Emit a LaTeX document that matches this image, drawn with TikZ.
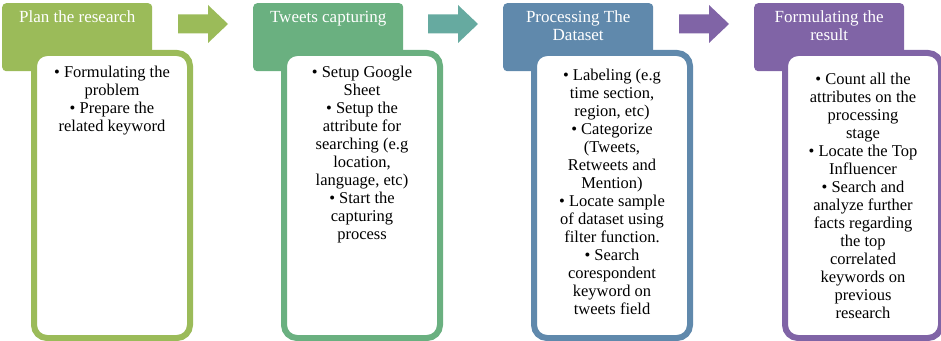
\documentclass[tikz,border=0pt]{standalone}
\usepackage{fontspec}
\setmainfont{Liberation Serif}
\usetikzlibrary{positioning}

\definecolor{olive}{HTML}{9BBB59}
\definecolor{leaf}{HTML}{6AB080}
\definecolor{teal}{HTML}{66AAA0}
\definecolor{steel}{HTML}{6089AC}
\definecolor{violet}{HTML}{8064A6}

\tikzset{
  header/.style={fill=#1, rounded corners=4pt, inner sep=0pt,
    minimum width=150pt, minimum height=68pt, anchor=north west},
  panel/.style={draw=#1, line width=6pt, fill=white, rounded corners=13pt,
    inner sep=0pt, minimum width=156pt, minimum height=285pt, anchor=north west},
  title/.style={text=white, align=center, inner sep=0pt,
    font=\fontsize{17}{18}\selectfont},
  items/.style={align=center, inner sep=0pt,
    font=\fontsize{16.5}{18}\selectfont}
}

\begin{document}
\begin{tikzpicture}[x=1pt,y=1pt]
  \useasboundingbox (0,0) rectangle (941,340);

  % Draw the header boxes
  \node[header=olive] (hd1) at (2,337) {};
  \node[header=leaf] (hd2) at (253,337) {};
  \node[header=steel] (hd3) at (503,337) {};
  \node[header=violet] (hd4) at (754,337) {};

  % Draw the arrows between the stages
  \fill[olive] (178,306.5) -- ++(0,19) -- ++(30,0) -- ++(0,9.5) -- ++(20,-19)
    -- ++(-20,-19) -- ++(0,9.5) -- cycle;
  \fill[teal] (428,306.5) -- ++(0,19) -- ++(30,0) -- ++(0,9.5) -- ++(20,-19)
    -- ++(-20,-19) -- ++(0,9.5) -- cycle;
  \fill[violet] (679,306.5) -- ++(0,19) -- ++(30,0) -- ++(0,9.5) -- ++(20,-19)
    -- ++(-20,-19) -- ++(0,9.5) -- cycle;

  % Draw the white panels on top
  \node[panel=olive] (bx1) at (31,290) {};
  \node[panel=leaf] (bx2) at (281,290) {};
  \node[panel=steel] (bx3) at (531,290) {};
  \node[panel=violet] (bx4) at (782,290) {};

  % Titles
  \node[title, below=8pt of hd1.north] (tt1) {Plan the research};
  \node[title, below=8pt of hd2.north] (tt2) {Tweets capturing};
  \node[title, below=8pt of hd3.north] (tt3) {Processing The\\ Dataset};
  \node[title, below=8pt of hd4.north] (tt4) {Formulating the\\ result};

  % Steps of each stage
  \node[items, below=16pt of bx1.north] (it1)
    {\textbullet\ Formulating the\\ problem\\ \textbullet\ Prepare the\\ related keyword};
  \node[items, below=16pt of bx2.north] (it2)
    {\textbullet\ Setup Google\\ Sheet\\ \textbullet\ Setup the\\ attribute for\\
     searching (e.g\\ location,\\ language, etc)\\ \textbullet\ Start the\\ capturing\\ process};
  \node[items, below=19pt of bx3.north] (it3)
    {\textbullet\ Labeling (e.g\\ time section,\\ region, etc)\\ \textbullet\ Categorize\\
     (Tweets,\\ Retweets and\\ Mention)\\ \textbullet\ Locate sample\\ of dataset using\\
     filter function.\\ \textbullet\ Search\\ corespondent\\ keyword on\\ tweets field};
  \node[items, below=23pt of bx4.north] (it4)
    {\textbullet\ Count all the\\ attributes on the\\ processing\\ stage\\
     \textbullet\ Locate the Top\\ Influencer\\ \textbullet\ Search and\\ analyze further\\
     facts regarding\\ the top\\ correlated\\ keywords on\\ previous\\ research};

\end{tikzpicture}
\end{document}
